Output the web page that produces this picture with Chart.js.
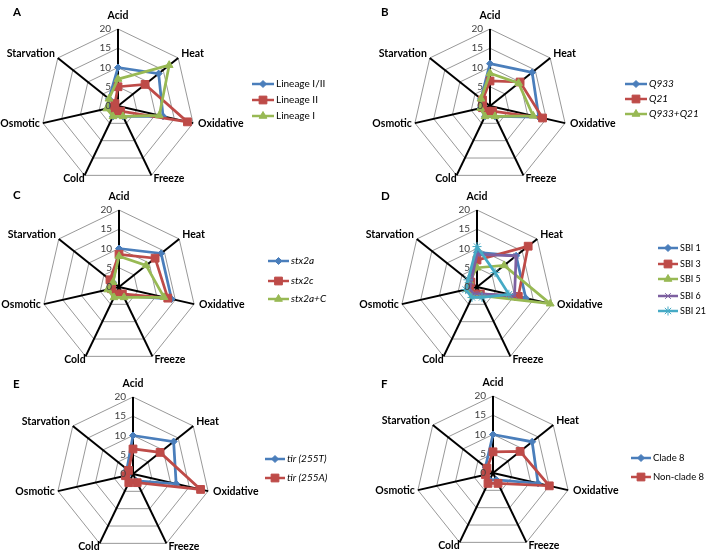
<!DOCTYPE html>
<html><head><meta charset="utf-8">
<script src="https://cdn.jsdelivr.net/npm/chart.js@4.4.1/dist/chart.umd.min.js"></script>
<style>
html,body{margin:0;padding:0;background:#fff;width:708px;height:554px;overflow:hidden;position:relative;}
canvas{position:absolute;}
</style></head><body>
<canvas id="cA" width="354" height="200" style="left:0px;top:0px;width:354px;height:200px"></canvas>
<canvas id="cB" width="354" height="200" style="left:354px;top:0px;width:354px;height:200px"></canvas>
<canvas id="cC" width="354" height="200" style="left:0px;top:180px;width:354px;height:200px"></canvas>
<canvas id="cD" width="354" height="200" style="left:354px;top:180px;width:354px;height:200px"></canvas>
<canvas id="cE" width="354" height="189" style="left:0px;top:365px;width:354px;height:189px"></canvas>
<canvas id="cF" width="354" height="189" style="left:354px;top:365px;width:354px;height:189px"></canvas>
<script>
// ---------- data ----------
const categories = ['Acid','Heat','Oxidative','Freeze','Cold','Osmotic','Starvation'];
const tickValues = [0, 5, 10, 15, 20];

// Panel A
const lineageI_II = [10, 13.5, 12, 3, 3, 2.5, 3];
const lineageII   = [5, 9, 18.5, 1.5, 1.5, 1, 1];
const lineageI    = [7, 17, 11, 3, 3, 3, 3];
// Panel B
const q933     = [11, 14, 13, 3, 3, 2.5, 3];
const q21      = [6.5, 10, 14, 1.5, 1.5, 2, 2.5];
const q933q21  = [8.5, 9.5, 11.5, 3, 3, 2.5, 3];
// Panel C
const stx2a  = [10, 14, 14, 2.5, 2.5, 2, 2];
const stx2c  = [8.5, 12, 13, 2, 2, 2, 3];
const stx2aC = [8, 9, 12, 3, 3, 3, 2];
// Panel D
const sbi1  = [9, 13, 13, 2.5, 2.5, 2.5, 2.5];
const sbi3  = [7, 17, 11, 2, 2, 2, 2];
const sbi5  = [5, 9, 19.5, 2.5, 2.5, 2.5, 2.5];
const sbi6  = [8.5, 13, 10, 2, 2, 2, 2];
const sbi21 = [10.5, 6, 8.5, 3, 3, 3, 3];
// Panel E
const tir255T = [10, 13.5, 11.5, 2, 2, 1.5, 2];
const tir255A = [6.5, 9, 18, 2.5, 2.5, 2, 1.5];
// Panel F
const clade8    = [10, 13, 12, 2, 2, 2, 2.5];
const nonClade8 = [5.5, 9, 15, 3, 3, 2, 2];

// ---------- styles ----------
const STYLES = {
  blue:   {color:'#4A7EBB', ps:'rectRot',  r:3.5},
  red:    {color:'#BE4B48', ps:'rect',     r:5.5},
  green:  {color:'#98B954', ps:'triangle', r:4.5},
  purple: {color:'#7D60A0', ps:'crossRot', r:4},
  cyan:   {color:'#46AAC5', ps:'star',     r:4.5}
};
const R = 77;
const FONT = 'Lato, "Open Sans", sans-serif';
const LABEL_POS = [
  {align:'center', base:'alphabetic', dx:0,  dy:-10},
  {align:'left',   base:'middle',     dx:3,  dy:-4},
  {align:'left',   base:'middle',     dx:5,  dy:0},
  {align:'left',   base:'alphabetic', dx:2,  dy:7},
  {align:'right',  base:'alphabetic', dx:0,  dy:7},
  {align:'right',  base:'middle',     dx:-3, dy:0},
  {align:'right',  base:'middle',     dx:-3, dy:-4}
];

const panels = [
  {id:'cA', letter:'A', lx:13, ly:16, cx:118, cy:106, italic:false,
   legend:{x0:252, x1:274, tx:276, ys:[84,100,116], fs:10},
   series:[{label:'Lineage I/II', data:lineageI_II, st:'blue'},
           {label:'Lineage II', data:lineageII, st:'red'},
           {label:'Lineage I', data:lineageI, st:'green'}]},
  {id:'cB', letter:'B', lx:27, ly:16, cx:136, cy:106, italic:true,
   legend:{x0:271, x1:293, tx:295, ys:[84,99,114], fs:10},
   series:[{label:'Q933', data:q933, st:'blue'},
           {label:'Q21', data:q21, st:'red'},
           {label:'Q933+Q21', data:q933q21, st:'green'}]},
  {id:'cC', letter:'C', lx:13, ly:19, cx:119, cy:107, italic:true,
   legend:{x0:268, x1:289, tx:291, ys:[81,101,119], fs:10},
   series:[{label:'stx2a', data:stx2a, st:'blue'},
           {label:'stx2c', data:stx2c, st:'red'},
           {label:'stx2a+C', data:stx2aC, st:'green'}]},
  {id:'cD', letter:'D', lx:27, ly:20, cx:123, cy:107, italic:false,
   legend:{x0:304, x1:324, tx:326, ys:[68,84,99,116,131], fs:9},
   series:[{label:'SBI 1', data:sbi1, st:'blue'},
           {label:'SBI 3', data:sbi3, st:'red'},
           {label:'SBI 5', data:sbi5, st:'green'},
           {label:'SBI 6', data:sbi6, st:'purple'},
           {label:'SBI 21', data:sbi21, st:'cyan'}]},
  {id:'cE', letter:'E', lx:13, ly:23, cx:133, cy:109, italic:true,
   legend:{x0:265, x1:285, tx:287, ys:[94,113], fs:10},
   series:[{label:'tir (255T)', data:tir255T, st:'blue'},
           {label:'tir (255A)', data:tir255A, st:'red'}]},
  {id:'cF', letter:'F', lx:27, ly:23, cx:139, cy:108, italic:false,
   legend:{x0:277, x1:297, tx:299, ys:[93,112], fs:9.5},
   series:[{label:'Clade 8', data:clade8, st:'blue'},
           {label:'Non-clade 8', data:nonClade8, st:'red'}]}
];

function drawMarker(ctx, st, x, y) {
  ctx.save();
  ctx.fillStyle = st.color; ctx.strokeStyle = st.color; ctx.lineWidth = 1;
  if (Chart.helpers && Chart.helpers.drawPoint) {
    Chart.helpers.drawPoint(ctx, {pointStyle: st.ps, radius: st.r, rotation: 0, borderWidth: 1}, x, y);
  }
  ctx.restore();
}

function makeOverlay(p) {
  return {
    id: 'overlay' + p.letter,
    afterDraw(chart) {
      const ctx = chart.ctx, s = chart.scales.r;
      ctx.save();
      // tick labels
      ctx.font = '10px ' + FONT; ctx.fillStyle = '#404040';
      ctx.textAlign = 'right'; ctx.textBaseline = 'middle';
      tickValues.forEach(v => {
        const pt = s.getPointPositionForValue(0, v);
        ctx.fillText(String(v), pt.x - 7, pt.y);
      });
      // category labels
      ctx.font = 'bold 10.5px ' + FONT; ctx.fillStyle = '#000';
      categories.forEach((c, i) => {
        const t = s.getPointPosition(i, s.drawingArea);
        const L = LABEL_POS[i];
        ctx.textAlign = L.align; ctx.textBaseline = L.base;
        ctx.fillText(c, t.x + L.dx, t.y + L.dy);
      });
      // panel letter
      ctx.font = 'bold 11.5px ' + FONT; ctx.textAlign = 'left'; ctx.textBaseline = 'alphabetic';
      ctx.fillText(p.letter, p.lx, p.ly);
      // legend
      p.series.forEach((sr, k) => {
        const st = STYLES[sr.st], y = p.legend.ys[k];
        ctx.strokeStyle = st.color; ctx.lineWidth = 2.5;
        ctx.beginPath(); ctx.moveTo(p.legend.x0, y); ctx.lineTo(p.legend.x1, y); ctx.stroke();
        drawMarker(ctx, st, (p.legend.x0 + p.legend.x1) / 2, y);
        ctx.fillStyle = '#000';
        ctx.font = (p.italic ? 'italic ' : '') + p.legend.fs + 'px ' + FONT;
        ctx.textAlign = 'left'; ctx.textBaseline = 'middle';
        ctx.fillText(sr.label, p.legend.tx, y);
      });
      ctx.restore();
    }
  };
}

panels.forEach(p => {
  const n = p.series.length;
  new Chart(document.getElementById(p.id), {
    type: 'radar',
    data: {
      labels: categories,
      datasets: p.series.map((sr, i) => {
        const st = STYLES[sr.st];
        return {
          label: sr.label, data: sr.data, order: n - i,
          borderColor: st.color, backgroundColor: st.color,
          pointBackgroundColor: st.color, pointBorderColor: st.color,
          pointStyle: st.ps, pointRadius: st.r, pointBorderWidth: 1,
          borderWidth: 2.75, fill: false, tension: 0
        };
      })
    },
    options: {
      responsive: false, animation: false,
      layout: {padding: 0},
      plugins: {legend: {display: false}, tooltip: {enabled: false}},
      scales: {
        r: {
          min: 0, max: 20,
          ticks: {stepSize: 5, display: false},
          grid: {color: '#8c8c8c', lineWidth: 0.9},
          angleLines: {color: '#000', lineWidth: 2},
          pointLabels: {display: false},
          afterFit: (scale) => { scale.xCenter = p.cx; scale.yCenter = p.cy; scale.drawingArea = R; }
        }
      }
    },
    plugins: [makeOverlay(p)]
  });
});
</script>
</body></html>
